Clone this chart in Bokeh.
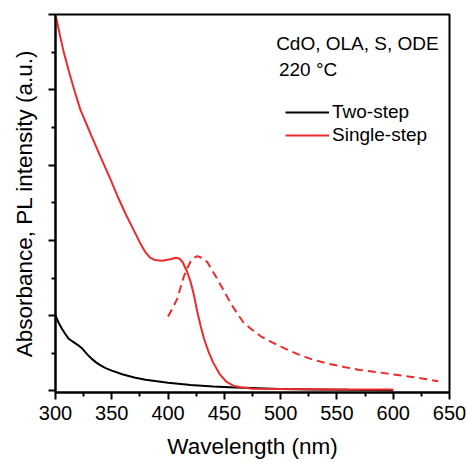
from bokeh.plotting import figure
from bokeh.models import FixedTicker, Label, Legend, LegendItem, Range1d
from bokeh.embed import file_html
from bokeh.resources import INLINE

# ---- data ----
x_ticks = [300, 350, 400, 450, 500, 550, 600, 650]
x_minor = [325, 375, 425, 475, 525, 575, 625]
y_ticks = [0, 1, 2, 3, 4, 5]
y_minor = [0.5, 1.5, 2.5, 3.5, 4.5]

two_x = [300, 303, 306, 309, 312, 316, 320, 324, 328, 332, 336, 340, 345, 350, 360, 370,
         380, 390, 400, 420, 440, 460, 480, 500, 530, 560, 600]
two_y = [1.00, 0.90, 0.82, 0.75, 0.69, 0.65, 0.61, 0.56, 0.49, 0.43, 0.38, 0.34, 0.30,
         0.27, 0.22, 0.18, 0.15, 0.13, 0.11, 0.08, 0.06, 0.045, 0.035, 0.025, 0.02,
         0.015, 0.01]

abs_x = [300, 304, 307, 312, 317, 322, 331, 340, 348, 355, 362, 369, 375, 380, 384, 388,
         395, 402, 407, 410, 413, 417, 420, 423, 426, 429, 432, 436, 440, 446, 452, 458,
         464, 475, 500, 550, 600]
abs_y = [5.0, 4.72, 4.52, 4.24, 3.98, 3.74, 3.42, 3.11, 2.84, 2.59, 2.36, 2.15, 1.97, 1.84,
         1.77, 1.74, 1.73, 1.75, 1.77, 1.76, 1.71, 1.58, 1.45, 1.27, 1.05, 0.86, 0.69,
         0.52, 0.38, 0.22, 0.12, 0.07, 0.05, 0.03, 0.025, 0.02, 0.02]

pl_x = [400, 404, 408, 411, 414, 417, 420, 423, 426, 430, 435, 440, 444, 450, 455, 461,
        467, 474, 482, 492, 503, 515, 526, 540, 556, 570, 586, 600, 615, 628, 640]
pl_y = [0.99, 1.10, 1.22, 1.37, 1.52, 1.63, 1.72, 1.77, 1.79, 1.77, 1.71, 1.58, 1.48,
        1.32, 1.18, 1.04, 0.91, 0.82, 0.73, 0.65, 0.57, 0.49, 0.43, 0.37, 0.32, 0.28,
        0.25, 0.22, 0.19, 0.16, 0.13]

FONT = "Liberation Sans"
RED = "#ee2a2a"

p = figure(width=466, height=464, output_backend="svg", toolbar_location=None,
           x_range=Range1d(300, 650), y_range=Range1d(-0.02, 5.0),
           min_border_left=55, min_border_right=17, min_border_top=14, min_border_bottom=72)

p.xgrid.visible = False
p.ygrid.visible = False
p.outline_line_color = "black"
p.outline_line_width = 2
p.background_fill_color = "white"
p.border_fill_color = "white"

p.xaxis.ticker = FixedTicker(ticks=x_ticks, minor_ticks=x_minor)
p.yaxis.ticker = FixedTicker(ticks=y_ticks, minor_ticks=y_minor)

for ax in (p.xaxis[0], p.yaxis[0]):
    ax.axis_line_width = 2
    ax.axis_line_color = "black"
    ax.major_tick_line_width = 2
    ax.minor_tick_line_width = 2
    ax.major_tick_in = 0
    ax.minor_tick_in = 0
    ax.major_tick_out = 7
    ax.minor_tick_out = 4
    ax.axis_label_text_font = FONT
    ax.axis_label_text_font_style = "normal"
    ax.axis_label_text_font_size = "22.5px"
    ax.axis_label_text_color = "black"
    ax.major_label_text_font = FONT
    ax.major_label_text_font_size = "20px"
    ax.major_label_text_color = "black"

p.xaxis.axis_label = "Wavelength (nm)"
p.xaxis.major_label_standoff = 6
p.xaxis.axis_label_standoff = 11
p.yaxis.axis_label = "Absorbance, PL intensity (a.u.)"
p.yaxis.major_label_overrides = {t: "" for t in y_ticks}
p.yaxis.major_label_standoff = 0
p.yaxis.axis_label_standoff = 12

r_two = p.line(two_x, two_y, line_color="black", line_width=2)
r_single = p.line(abs_x, abs_y, line_color=RED, line_width=2)
p.line(pl_x, pl_y, line_color=RED, line_width=2, line_dash="8 5")

p.add_layout(Label(x=496, y=4.62, text="CdO, OLA, S, ODE", text_font=FONT,
                   text_font_size="19px", text_color="black", text_baseline="middle"))
p.add_layout(Label(x=498.5, y=4.27, text="220 \u00b0C", text_font=FONT,
                   text_font_size="19px", text_color="black", text_baseline="middle"))

legend = Legend(items=[LegendItem(label="Two-step", renderers=[r_two]),
                       LegendItem(label="Single-step", renderers=[r_single])],
                location=(230, 246), glyph_width=44, glyph_height=20, label_height=20,
                spacing=1, padding=0, margin=0, label_standoff=3,
                label_text_font=FONT, label_text_font_size="19px",
                label_text_color="black",
                border_line_color=None, background_fill_alpha=0)
p.add_layout(legend)

open("out.html", "w").write(file_html(p, INLINE))
